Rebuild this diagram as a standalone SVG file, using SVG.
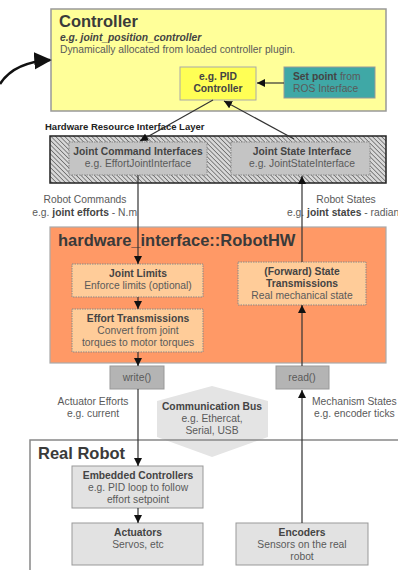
<svg xmlns="http://www.w3.org/2000/svg" width="398" height="570" viewBox="0 0 398 570">
  <defs>
    <style>
      text { font-family: "Liberation Sans", Arial, sans-serif; fill: #5a5a5a; }
      .title { font-size: 16.5px; font-weight: bold; fill: #3a3a3a; }
      .b { font-weight: bold; fill: #444; }
      .s { font-size: 10.3px; }
      .c { text-anchor: middle; }
      .conn { stroke: #333; stroke-width: 1.2; fill: none; }
      .sub { stroke-dasharray: 1.5 1; stroke: #888; stroke-width: 1; }
    </style>
    <marker id="ah" viewBox="0 0 10 10" refX="10" refY="5" markerWidth="8" markerHeight="8" markerUnits="userSpaceOnUse" orient="auto">
      <path d="M0,0 L10,5 L0,10 z" fill="#111"/>
    </marker>
    <marker id="ahBig" viewBox="0 0 10 10" refX="9" refY="5" markerWidth="7" markerHeight="7" orient="auto">
      <path d="M0,0 L10,5 L0,10 z" fill="#111"/>
    </marker>
    <pattern id="hatch" width="3.2" height="3.2" patternUnits="userSpaceOnUse" patternTransform="rotate(-45)">
      <rect width="3.2" height="3.2" fill="#d8d8d8"/>
      <line x1="0" y1="0" x2="0" y2="3.2" stroke="#555" stroke-width="1.3"/>
    </pattern>
  </defs>

  <!-- communication bus shape sits behind the real robot frame -->
  <polygon points="212,386 268,401 268,437 212,457 157,437 157,401" fill="#e4e4e4"/>

  <g id="controller">
    <rect x="51" y="9" width="335" height="102" fill="#ffff99" stroke="#999" stroke-width="1.5"/>
    <text x="59" y="27" class="title">Controller</text>
    <text x="60" y="41" class="s b" font-style="italic">e.g. joint_position_controller</text>
    <text x="60" y="53" class="s">Dynamically allocated from loaded controller plugin.</text>
  </g>

  <g id="pid">
    <rect x="180" y="67" width="76" height="33" fill="#ffff55" stroke="#aaa" stroke-width="1"/>
    <text x="218" y="80" class="s b c">e.g. PID</text>
    <text x="218" y="92" class="s b c">Controller</text>
  </g>

  <g id="setpoint">
    <rect x="284" y="67" width="91" height="31" fill="#3fa8a6" stroke="#999" stroke-width="1"/>
    <text x="293" y="80" class="s"><tspan class="b">Set point</tspan> from</text>
    <text x="293" y="92" class="s">ROS Interface</text>
  </g>

  <text x="45" y="130" font-size="9.5" class="b" style="fill:#222">Hardware Resource Interface Layer</text>

  <g id="hw-interface">
    <rect x="50" y="136" width="336" height="47" fill="url(#hatch)" stroke="#222" stroke-width="1.5"/>
    <g id="joint-command">
      <rect x="69" y="142" width="138" height="33" fill="#c4c4c4" class="sub"/>
      <text x="138" y="155" class="s b c">Joint Command Interfaces</text>
      <text x="138" y="167" class="s c">e.g. EffortJointInterface</text>
    </g>
    <g id="joint-state">
      <rect x="231" y="142" width="139" height="33" fill="#c4c4c4" class="sub"/>
      <text x="302" y="155" class="s b c">Joint State Interface</text>
      <text x="302" y="167" class="s c">e.g. JointStateInterface</text>
    </g>
  </g>

  <text x="85" y="203" class="s c">Robot Commands</text>
  <text x="137" y="216" class="s" text-anchor="end">e.g. <tspan class="b">joint efforts</tspan> - N.m</text>
  <text x="346" y="203" class="s c">Robot States</text>
  <text x="287" y="216" class="s">e.g. <tspan class="b">joint states</tspan> - radian</text>

  <g id="robothw">
    <rect x="50" y="227" width="336" height="136" fill="#ff9966" stroke="#aaa" stroke-width="1.2"/>
    <text x="58" y="246" class="title">hardware_interface::RobotHW</text>
  </g>

  <g id="joint-limits">
    <rect x="72" y="264" width="131" height="33" fill="#ffcc99" class="sub"/>
    <text x="138" y="277" class="s b c">Joint Limits</text>
    <text x="138" y="289" class="s c">Enforce limits (optional)</text>
  </g>

  <g id="effort-transmissions">
    <rect x="72" y="309" width="131" height="43" fill="#ffcc99" class="sub"/>
    <text x="138" y="322" class="s b c">Effort Transmissions</text>
    <text x="138" y="334" class="s c">Convert from joint</text>
    <text x="138" y="346" class="s c">torques to motor torques</text>
  </g>

  <g id="state-transmissions">
    <rect x="238" y="262" width="128" height="43" fill="#ffcc99" class="sub"/>
    <text x="302" y="275" class="s b c">(Forward) State</text>
    <text x="302" y="287" class="s b c">Transmissions</text>
    <text x="302" y="299" class="s c">Real mechanical state</text>
  </g>

  <g id="write">
    <rect x="110" y="366" width="54" height="23" fill="#b4b4b4" stroke="#999" stroke-width="1"/>
    <text x="137" y="381" class="s c">write()</text>
  </g>

  <g id="read">
    <rect x="276" y="366" width="53" height="23" fill="#b4b4b4" stroke="#999" stroke-width="1"/>
    <text x="302" y="381" class="s c">read()</text>
  </g>

  <text x="93" y="405" class="s c">Actuator Efforts</text>
  <text x="93" y="417" class="s c">e.g. current</text>
  <text x="212" y="410" class="s b c">Communication Bus</text>
  <text x="212" y="422" class="s c">e.g. Ethercat,</text>
  <text x="212" y="434" class="s c">Serial, USB</text>
  <text x="312" y="405" class="s">Mechanism States</text>
  <text x="314" y="417" class="s">e.g. encoder ticks</text>

  <g id="real-robot">
    <rect x="30" y="440" width="380" height="140" fill="none" stroke="#888" stroke-width="1.5"/>
    <text x="38" y="459" class="title">Real Robot</text>
  </g>

  <g id="embedded-controllers">
    <rect x="72" y="466" width="131" height="42" fill="#e2e2e2" stroke="#999" stroke-width="1"/>
    <text x="138" y="479" class="s b c">Embedded Controllers</text>
    <text x="138" y="491" class="s c">e.g. PID loop to follow</text>
    <text x="138" y="503" class="s c">effort setpoint</text>
  </g>

  <g id="actuators">
    <rect x="72" y="523" width="131" height="42" fill="#e2e2e2" stroke="#999" stroke-width="1"/>
    <text x="138" y="536" class="s b c">Actuators</text>
    <text x="138" y="548" class="s c">Servos, etc</text>
  </g>

  <g id="encoders">
    <rect x="236" y="523" width="132" height="42" fill="#e2e2e2" stroke="#999" stroke-width="1"/>
    <text x="302" y="536" class="s b c">Encoders</text>
    <text x="302" y="548" class="s c">Sensors on the real</text>
    <text x="302" y="560" class="s c">robot</text>
  </g>

  <g id="connectors">
    <path d="M0,84 Q14,62 50,60" stroke="#111" stroke-width="2.5" fill="none" marker-end="url(#ahBig)"/>
    <line x1="284" y1="83" x2="257" y2="83" class="conn" marker-end="url(#ah)"/>
    <line x1="213" y1="100" x2="140" y2="141" class="conn" marker-end="url(#ah)"/>
    <line x1="294" y1="139" x2="224" y2="101" class="conn" marker-end="url(#ah)"/>
    <line x1="138" y1="175" x2="138" y2="264" class="conn" marker-end="url(#ah)"/>
    <line x1="302" y1="262" x2="302" y2="176" class="conn" marker-end="url(#ah)"/>
    <line x1="138" y1="297" x2="138" y2="309" class="conn" marker-end="url(#ah)"/>
    <line x1="138" y1="352" x2="138" y2="366" class="conn" marker-end="url(#ah)"/>
    <line x1="302" y1="366" x2="302" y2="305" class="conn" marker-end="url(#ah)"/>
    <line x1="138" y1="389" x2="138" y2="466" class="conn" marker-end="url(#ah)"/>
    <line x1="302" y1="523" x2="302" y2="390" class="conn" marker-end="url(#ah)"/>
    <line x1="138" y1="508" x2="138" y2="523" class="conn" marker-end="url(#ah)"/>
  </g>
</svg>
